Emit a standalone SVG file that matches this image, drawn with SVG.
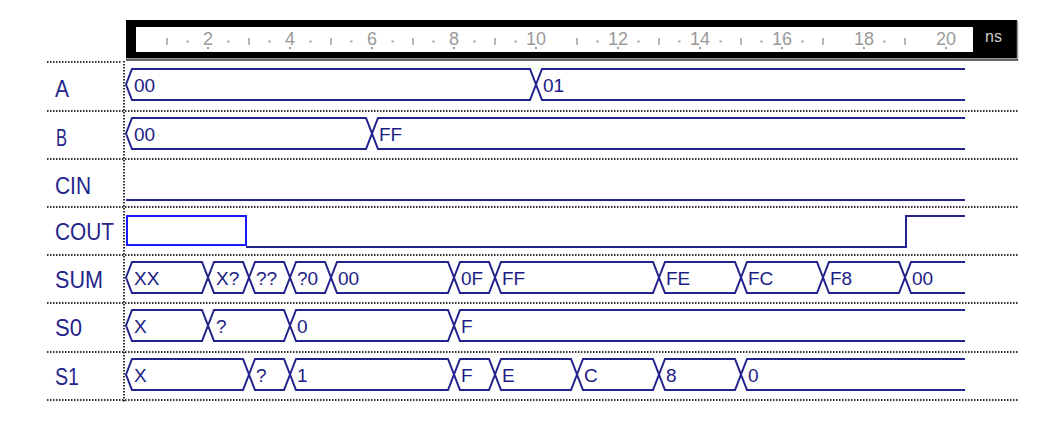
<svg xmlns="http://www.w3.org/2000/svg" width="1044" height="430" viewBox="0 0 1044 430">
<style>
.bg{fill:#ffffff}
.dot{stroke:#333;stroke-width:2;stroke-dasharray:1.5 1.5;fill:none}
.w{stroke:#22228c;stroke-width:2;fill:none;stroke-linejoin:miter}
.u{stroke:#1a1aff;stroke-width:2;fill:none}
.lbl{font-family:"Liberation Sans",Arial,sans-serif;font-size:24px;fill:#24248c}
.val{font-family:"Liberation Sans",Arial,sans-serif;font-size:19px;fill:#1c1c84}
.rt{font-family:"Liberation Sans",Arial,sans-serif;font-size:18px;fill:#9a9a9a;text-anchor:middle}
.tk{stroke:#9a9a9a;stroke-width:1.5}
.dt{fill:#9a9a9a}
</style>
<rect class="bg" x="0" y="0" width="1044" height="430"/>

<g id="ruler">
<rect x="126" y="20" width="891" height="38" fill="#000"/>
<line x1="1017.5" y1="21" x2="1017.5" y2="60" stroke="#999" stroke-width="1.5"/>
<line x1="126" y1="58.5" x2="1018" y2="58.5" stroke="#999" stroke-width="1"/>
<line x1="126" y1="60" x2="1018" y2="60" stroke="#333" stroke-width="1.5"/>
<rect x="136" y="27" width="837" height="25" fill="#fff"/>
<text x="985" y="42" font-family="'Liberation Sans',Arial,sans-serif" font-size="16" fill="#cccccc">ns</text>
<g>
<line class="tk" x1="167" y1="38" x2="167" y2="45"/>
<line class="tk" x1="249" y1="38" x2="249" y2="45"/>
<line class="tk" x1="331" y1="38" x2="331" y2="45"/>
<line class="tk" x1="413" y1="38" x2="413" y2="45"/>
<line class="tk" x1="495" y1="38" x2="495" y2="45"/>
<line class="tk" x1="577" y1="38" x2="577" y2="45"/>
<line class="tk" x1="659" y1="38" x2="659" y2="45"/>
<line class="tk" x1="741" y1="38" x2="741" y2="45"/>
<line class="tk" x1="823" y1="38" x2="823" y2="45"/>
<line class="tk" x1="905" y1="38" x2="905" y2="45"/>
</g>
<g>
<rect class="dt" x="186.5" y="40.5" width="2" height="2"/>
<rect class="dt" x="227.5" y="40.5" width="2" height="2"/>
<rect class="dt" x="268.5" y="40.5" width="2" height="2"/>
<rect class="dt" x="309.5" y="40.5" width="2" height="2"/>
<rect class="dt" x="350.5" y="40.5" width="2" height="2"/>
<rect class="dt" x="391.5" y="40.5" width="2" height="2"/>
<rect class="dt" x="432.5" y="40.5" width="2" height="2"/>
<rect class="dt" x="473.5" y="40.5" width="2" height="2"/>
<rect class="dt" x="514.5" y="40.5" width="2" height="2"/>
<rect class="dt" x="596.5" y="40.5" width="2" height="2"/>
<rect class="dt" x="637.5" y="40.5" width="2" height="2"/>
<rect class="dt" x="678.5" y="40.5" width="2" height="2"/>
<rect class="dt" x="719.5" y="40.5" width="2" height="2"/>
<rect class="dt" x="760.5" y="40.5" width="2" height="2"/>
<rect class="dt" x="801.5" y="40.5" width="2" height="2"/>
<rect class="dt" x="883.5" y="40.5" width="2" height="2"/>
</g>
<g>
<rect class="dt" x="207" y="47" width="2" height="2"/>
<rect class="dt" x="289" y="47" width="2" height="2"/>
<rect class="dt" x="371" y="47" width="2" height="2"/>
<rect class="dt" x="453" y="47" width="2" height="2"/>
<rect class="dt" x="535" y="47" width="2" height="2"/>
<rect class="dt" x="617" y="47" width="2" height="2"/>
<rect class="dt" x="699" y="47" width="2" height="2"/>
<rect class="dt" x="781" y="47" width="2" height="2"/>
<rect class="dt" x="863" y="47" width="2" height="2"/>
<rect class="dt" x="945" y="47" width="2" height="2"/>
</g>
<text class="rt" x="208" y="45">2</text>
<text class="rt" x="290" y="45">4</text>
<text class="rt" x="372" y="45">6</text>
<text class="rt" x="454" y="45">8</text>
<text class="rt" x="536" y="45">10</text>
<text class="rt" x="618" y="45">12</text>
<text class="rt" x="700" y="45">14</text>
<text class="rt" x="782" y="45">16</text>
<text class="rt" x="864" y="45">18</text>
<text class="rt" x="946" y="45">20</text>
</g>

<g id="grid">
<line class="dot" x1="47" y1="62" x2="122" y2="62"/>
<line class="dot" x1="47" y1="111" x2="1018" y2="111"/>
<line class="dot" x1="47" y1="159" x2="1018" y2="159"/>
<line class="dot" x1="47" y1="207" x2="1018" y2="207"/>
<line class="dot" x1="47" y1="255" x2="1018" y2="255"/>
<line class="dot" x1="47" y1="303" x2="1018" y2="303"/>
<line class="dot" x1="47" y1="352" x2="1018" y2="352"/>
<line class="dot" x1="47" y1="400" x2="1018" y2="400"/>
<line class="dot" x1="124" y1="61" x2="124" y2="402"/>
</g>

<g id="A">
<text class="lbl" x="55" y="97" textLength="14" lengthAdjust="spacingAndGlyphs">A</text>
<path class="w" d="M126,84.5 L132,69 L530,69 L536,84.5 L530,100 L132,100 Z"/>
<path class="w" d="M965,69 L542,69 L536,84.5 L542,100 L965,100"/>
<text class="val" x="134" y="92">00</text>
<text class="val" x="543" y="92">01</text>
</g>

<g id="B">
<text class="lbl" x="56" y="146" textLength="11" lengthAdjust="spacingAndGlyphs">B</text>
<path class="w" d="M126,133.5 L132,118 L366,118 L372,133.5 L366,149 L132,149 Z"/>
<path class="w" d="M965,118 L378,118 L372,133.5 L378,149 L965,149"/>
<text class="val" x="134" y="141">00</text>
<text class="val" x="379" y="141">FF</text>
</g>

<g id="CIN">
<text class="lbl" x="55" y="194" textLength="36" lengthAdjust="spacingAndGlyphs">CIN</text>
<path class="w" d="M126,200 L965,200"/>
</g>

<g id="COUT">
<text class="lbl" x="55" y="240" textLength="59" lengthAdjust="spacingAndGlyphs">COUT</text>
<rect class="u" x="127" y="216" width="119" height="29"/>
<path class="w" d="M246,247 L906,247 L906,216 L965,216"/>
</g>

<g id="SUM">
<text class="lbl" x="55" y="288" textLength="48" lengthAdjust="spacingAndGlyphs">SUM</text>
<path class="w" d="M126,277.5 L132,262 L202,262 L208,277.5 L202,293 L132,293 Z"/>
<path class="w" d="M208,277.5 L214,262 L243,262 L249,277.5 L243,293 L214,293 Z"/>
<path class="w" d="M249,277.5 L255,262 L284,262 L290,277.5 L284,293 L255,293 Z"/>
<path class="w" d="M290,277.5 L296,262 L325,262 L331,277.5 L325,293 L296,293 Z"/>
<path class="w" d="M331,277.5 L337,262 L448,262 L454,277.5 L448,293 L337,293 Z"/>
<path class="w" d="M454,277.5 L460,262 L489,262 L495,277.5 L489,293 L460,293 Z"/>
<path class="w" d="M495,277.5 L501,262 L653,262 L659,277.5 L653,293 L501,293 Z"/>
<path class="w" d="M659,277.5 L665,262 L735,262 L741,277.5 L735,293 L665,293 Z"/>
<path class="w" d="M741,277.5 L747,262 L817,262 L823,277.5 L817,293 L747,293 Z"/>
<path class="w" d="M823,277.5 L829,262 L899,262 L905,277.5 L899,293 L829,293 Z"/>
<path class="w" d="M965,262 L911,262 L905,277.5 L911,293 L965,293"/>
<text class="val" x="134" y="285">XX</text>
<text class="val" x="216" y="285">X?</text>
<text class="val" x="256" y="285">??</text>
<text class="val" x="297" y="285">?0</text>
<text class="val" x="338" y="285">00</text>
<text class="val" x="461" y="285">0F</text>
<text class="val" x="502" y="285">FF</text>
<text class="val" x="666" y="285">FE</text>
<text class="val" x="748" y="285">FC</text>
<text class="val" x="830" y="285">F8</text>
<text class="val" x="912" y="285">00</text>
</g>

<g id="S0">
<text class="lbl" x="55" y="336" textLength="27" lengthAdjust="spacingAndGlyphs">S0</text>
<path class="w" d="M126,325.5 L132,310 L202,310 L208,325.5 L202,341 L132,341 Z"/>
<path class="w" d="M208,325.5 L214,310 L284,310 L290,325.5 L284,341 L214,341 Z"/>
<path class="w" d="M290,325.5 L296,310 L448,310 L454,325.5 L448,341 L296,341 Z"/>
<path class="w" d="M965,310 L460,310 L454,325.5 L460,341 L965,341"/>
<text class="val" x="134" y="333">X</text>
<text class="val" x="216" y="333">?</text>
<text class="val" x="297" y="333">0</text>
<text class="val" x="461" y="333">F</text>
</g>

<g id="S1">
<text class="lbl" x="55" y="385" textLength="24" lengthAdjust="spacingAndGlyphs">S1</text>
<path class="w" d="M126,374.5 L132,359 L243,359 L249,374.5 L243,390 L132,390 Z"/>
<path class="w" d="M249,374.5 L255,359 L284,359 L290,374.5 L284,390 L255,390 Z"/>
<path class="w" d="M290,374.5 L296,359 L448,359 L454,374.5 L448,390 L296,390 Z"/>
<path class="w" d="M454,374.5 L460,359 L489,359 L495,374.5 L489,390 L460,390 Z"/>
<path class="w" d="M495,374.5 L501,359 L571,359 L577,374.5 L571,390 L501,390 Z"/>
<path class="w" d="M577,374.5 L583,359 L653,359 L659,374.5 L653,390 L583,390 Z"/>
<path class="w" d="M659,374.5 L665,359 L735,359 L741,374.5 L735,390 L665,390 Z"/>
<path class="w" d="M965,359 L747,359 L741,374.5 L747,390 L965,390"/>
<text class="val" x="134" y="382">X</text>
<text class="val" x="256" y="382">?</text>
<text class="val" x="297" y="382">1</text>
<text class="val" x="461" y="382">F</text>
<text class="val" x="502" y="382">E</text>
<text class="val" x="584" y="382">C</text>
<text class="val" x="666" y="382">8</text>
<text class="val" x="748" y="382">0</text>
</g>
</svg>
